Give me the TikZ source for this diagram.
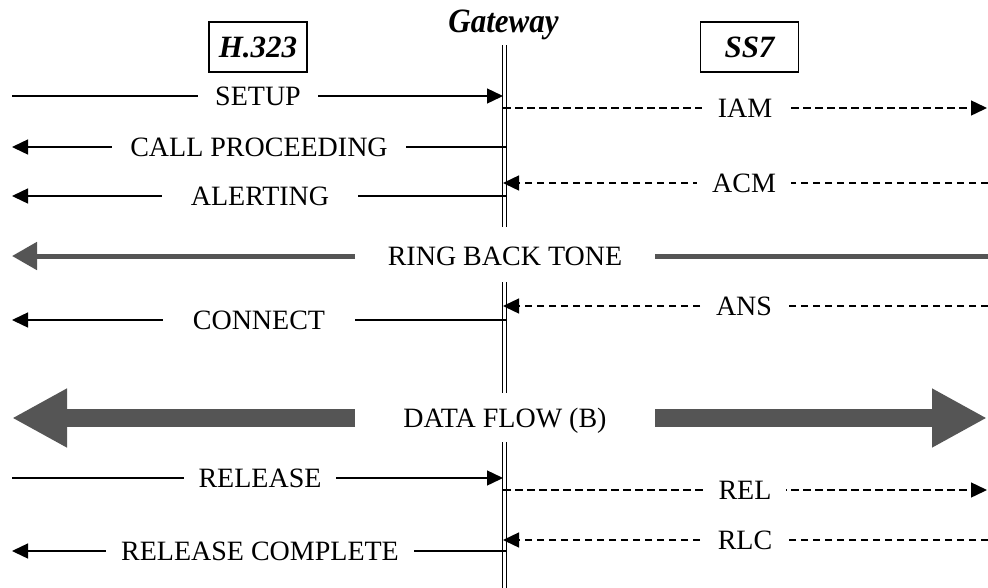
\documentclass[tikz,border=0pt]{standalone}
\usepackage{fontspec}
\setmainfont{Liberation Serif}
\usetikzlibrary{arrows.meta}
\definecolor{flow}{HTML}{555555}
\begin{document}
\begin{tikzpicture}[x=1pt,y=-1pt,
  lbl/.style={fill=white, inner ysep=1pt, font=\fontsize{28}{30}\selectfont, text height=18.5pt, text depth=0pt},
  ent/.style={draw, line width=1.5pt, minimum width=98pt, minimum height=50pt, inner sep=0pt,
    font=\fontsize{31}{34}\selectfont\bfseries\itshape, text height=20pt, text depth=0pt},
  gw/.style={double, double distance=2.6pt, line width=1.2pt},
  msg/.style={line width=1.4pt, -{Triangle[length=16pt,width=15pt]}},
  sig/.style={msg, dash pattern=on 7.5pt off 4.5pt},
  tone/.style={draw=flow, line width=5pt, -{Triangle[length=25pt,width=27pt]}},
  data/.style={draw=flow, line width=18pt, -{Triangle[length=55pt,width=55pt]}}
]
\fill[white] (0,0) rectangle (988,587);
\useasboundingbox (0,0) rectangle (988,587);

% headers
\node[ent] (h323) at (258,47) {H.323};
\node[ent] (ss7) at (749.5,47) {SS7};
\node[anchor=base, font=\fontsize{31}{34}\selectfont\bfseries\itshape, yscale=1.1] (gwl) at (503.5,32) {Gateway};

% gateway double line
\coordinate (g0) at (504.5,45);
\coordinate (g1) at (504.5,227);
\coordinate (g2) at (504.5,282);
\coordinate (g3) at (504.5,393);
\coordinate (g4) at (504.5,442);
\coordinate (g5) at (504.5,588);
\draw[gw] (g0) -- (g1);
\draw[gw] (g2) -- (g3);
\draw[gw] (g4) -- (g5);

% endpoints
\coordinate (a1) at (12,96);  \coordinate (b1) at (503,96);
\coordinate (a2) at (503,108); \coordinate (b2) at (987,108);
\coordinate (a3) at (506,147); \coordinate (b3) at (12,147);
\coordinate (a4) at (988,183); \coordinate (b4) at (503,183);
\coordinate (a5) at (506,196); \coordinate (b5) at (12,196);
\coordinate (a7) at (988,306); \coordinate (b7) at (503,306);
\coordinate (a8) at (506,320); \coordinate (b8) at (12,320);
\coordinate (a10) at (12,478); \coordinate (b10) at (503,478);
\coordinate (a11) at (503,490); \coordinate (b11) at (987,490);
\coordinate (a12) at (988,540); \coordinate (b12) at (503,540);
\coordinate (a13) at (506,551); \coordinate (b13) at (12,551);

\draw[msg] (a1) -- (b1);
\draw[sig] (a2) -- (b2);
\draw[msg] (a3) -- (b3);
\draw[sig] (a4) -- (b4);
\draw[msg] (a5) -- (b5);
\draw[sig] (a7) -- (b7);
\draw[msg] (a8) -- (b8);
\draw[msg] (a10) -- (b10);
\draw[sig] (a11) -- (b11);
\draw[sig] (a12) -- (b12);
\draw[msg] (a13) -- (b13);

% thick flows
\coordinate (t0) at (988,256); \coordinate (t1) at (655,256);
\coordinate (t2) at (355,256); \coordinate (t3) at (12,256);
\draw[draw=flow, line width=5pt] (t0) -- (t1);
\draw[tone] (t2) -- (t3);
\coordinate (d0) at (355,418); \coordinate (d1) at (12,418);
\coordinate (d2) at (655,418); \coordinate (d3) at (987,418);
\draw[data] (d0) -- (d1);
\draw[data] (d2) -- (d3);

% labels
\node[lbl, inner xsep=17pt] (setup) at (258,96) {SETUP};
\node[lbl, inner xsep=16pt] (iam) at (745,108) {IAM};
\node[lbl, inner xsep=18pt] (cp) at (259,147) {CALL PROCEEDING};
\node[lbl, inner xsep=15pt] (acm) at (744,183) {ACM};
\node[lbl, inner xsep=29pt] (alert) at (260,196) {ALERTING};
\node[lbl, inner xsep=0pt] (rbt) at (505,256) {RING BACK TONE};
\node[lbl, inner xsep=15pt] (ans) at (744,306) {ANS};
\node[lbl, inner xsep=30pt] (conn) at (259,320) {CONNECT};
\node[lbl, inner xsep=0pt] (df) at (505,418) {DATA FLOW (B)};
\node[lbl, inner xsep=15pt] (rel) at (260,478) {RELEASE};
\node[lbl, inner xsep=15pt] (rl) at (745,490) {REL};
\node[lbl, inner xsep=15pt] (rlc) at (745,540) {RLC};
\node[lbl, inner xsep=15pt] (rc) at (260,551) {RELEASE COMPLETE};
\end{tikzpicture}
\end{document}
